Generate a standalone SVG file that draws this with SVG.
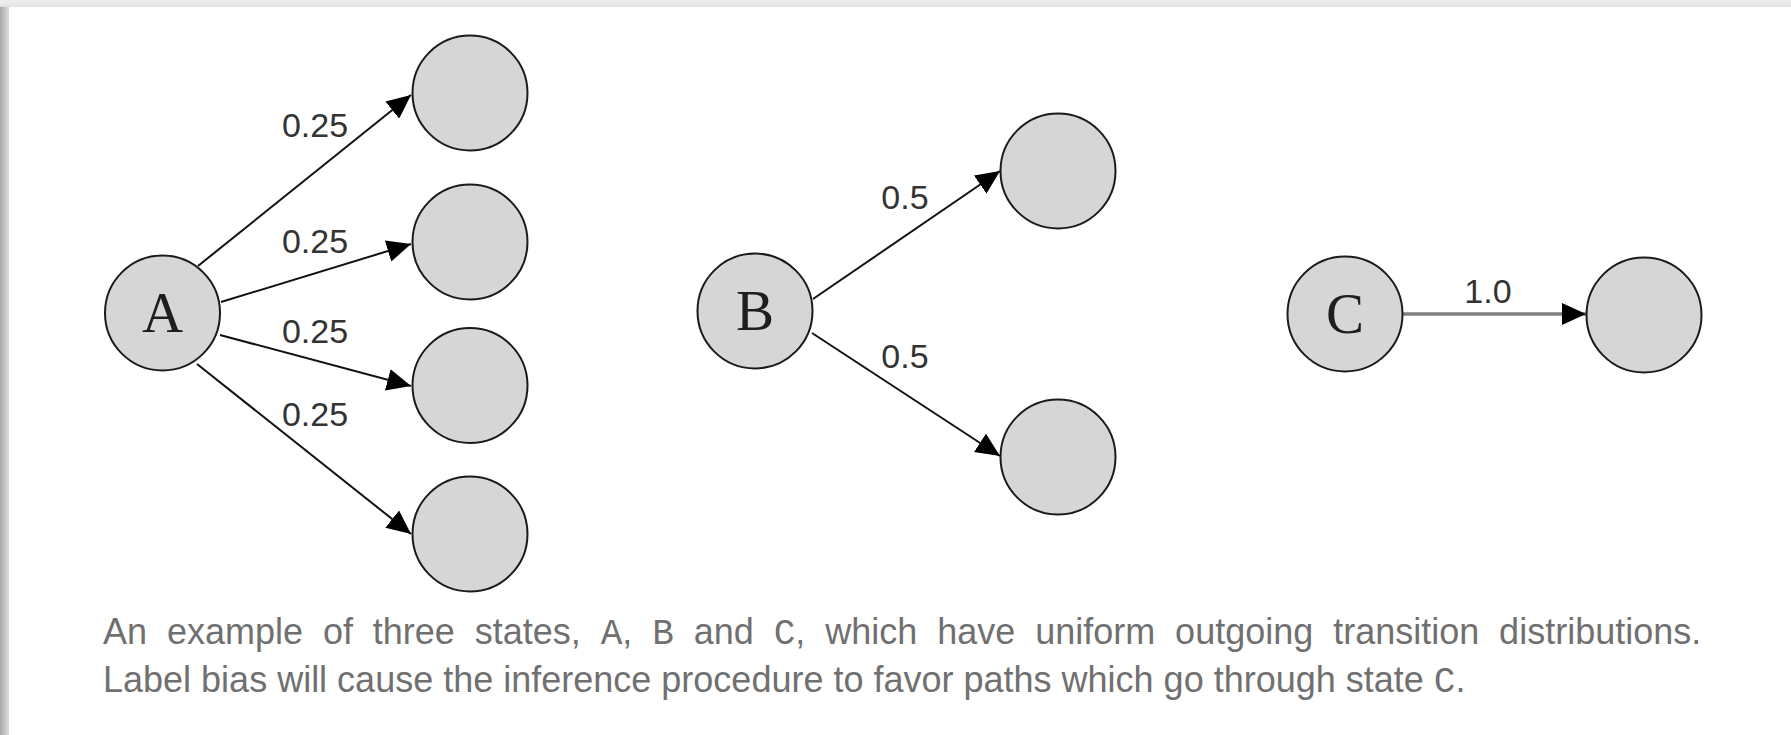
<svg xmlns="http://www.w3.org/2000/svg" width="1791" height="735" viewBox="0 0 1791 735">
  <defs>
    <style>
      .state { fill: #d6d6d6; stroke: #1a1a1a; stroke-width: 2; }
      .state-name { font-family: "Liberation Serif", "DejaVu Serif", serif; font-size: 57px; fill: #1e1e1e; text-anchor: middle; }
      .edge { stroke: #111; stroke-width: 2; fill: none; marker-end: url(#tip); }
      .edge-strong { stroke: #808080; stroke-width: 3.5; fill: none; marker-end: url(#tip); }
      .prob { font-family: "Liberation Sans", Arial, sans-serif; font-size: 34px; fill: #333; text-anchor: middle; }
      .caption { font-family: "Liberation Sans", Arial, sans-serif; font-size: 36px; fill: #707070; }
      .mono { font-family: "Courier New", "Liberation Mono", monospace; }
    </style>
    <marker id="tip" markerUnits="userSpaceOnUse" markerWidth="24" markerHeight="22" viewBox="0 0 24 22" refX="24" refY="11" orient="auto">
      <path d="M0,0 L24,11 L0,22 z" fill="#000"/>
    </marker>
    <linearGradient id="sideShade" x1="0" y1="0" x2="1" y2="0">
      <stop offset="0" stop-color="#a6a6a6"/>
      <stop offset="1" stop-color="#dedede"/>
    </linearGradient>
    <linearGradient id="topShade" x1="0" y1="0" x2="0" y2="1">
      <stop offset="0" stop-color="#eeeeee"/>
      <stop offset="1" stop-color="#e3e3e3"/>
    </linearGradient>
  </defs>

  <!-- page -->
  <rect x="0" y="0" width="1791" height="735" fill="#ffffff"/>
  <rect x="0" y="0" width="1791" height="7" fill="url(#topShade)"/>
  <rect x="0" y="7" width="9" height="728" fill="url(#sideShade)"/>

  <!-- transitions -->
  <g id="connectors">
    <line class="edge" x1="198" y1="266" x2="411" y2="95"/>
    <line class="edge" x1="221" y1="302" x2="411" y2="244"/>
    <line class="edge" x1="220" y1="335" x2="411" y2="386"/>
    <line class="edge" x1="197" y1="364" x2="411" y2="534"/>
    <line class="edge" x1="813" y1="299" x2="1000" y2="171"/>
    <line class="edge" x1="812" y1="333" x2="1000" y2="456"/>
    <line class="edge-strong" x1="1403" y1="314" x2="1586" y2="314"/>
    <text class="prob" x="315" y="137">0.25</text>
    <text class="prob" x="315" y="253">0.25</text>
    <text class="prob" x="315" y="343">0.25</text>
    <text class="prob" x="315" y="426">0.25</text>
    <text class="prob" x="905" y="209">0.5</text>
    <text class="prob" x="905" y="368">0.5</text>
    <text class="prob" x="1488" y="303">1.0</text>
  </g>

  <!-- state A and successors -->
  <g id="state-a">
    <circle class="state" cx="162.5" cy="313" r="57.5"/>
    <text class="state-name" x="162.5" y="332">A</text>
  </g>
  <g id="a-next-1"><circle class="state" cx="470" cy="93" r="57.5"/></g>
  <g id="a-next-2"><circle class="state" cx="470" cy="242" r="57.5"/></g>
  <g id="a-next-3"><circle class="state" cx="470" cy="385.5" r="57.5"/></g>
  <g id="a-next-4"><circle class="state" cx="470" cy="534" r="57.5"/></g>

  <!-- state B and successors -->
  <g id="state-b">
    <circle class="state" cx="755" cy="311" r="57.5"/>
    <text class="state-name" x="755" y="330">B</text>
  </g>
  <g id="b-next-1"><circle class="state" cx="1058" cy="171" r="57.5"/></g>
  <g id="b-next-2"><circle class="state" cx="1058" cy="457" r="57.5"/></g>

  <!-- state C and successor -->
  <g id="state-c">
    <circle class="state" cx="1345" cy="314" r="57.5"/>
    <text class="state-name" x="1345" y="333">C</text>
  </g>
  <g id="c-next-1"><circle class="state" cx="1644" cy="315" r="57.5"/></g>

  <!-- caption -->
  <g id="caption">
    <text class="caption" x="103" y="644" style="word-spacing: 9.9px">An example of three states, <tspan class="mono">A</tspan>, <tspan class="mono">B</tspan> and <tspan class="mono">C</tspan>, which have uniform outgoing transition distributions.</text>
    <text class="caption" x="103" y="692">Label bias will cause the inference procedure to favor paths which go through state <tspan class="mono">C</tspan>.</text>
  </g>
</svg>
